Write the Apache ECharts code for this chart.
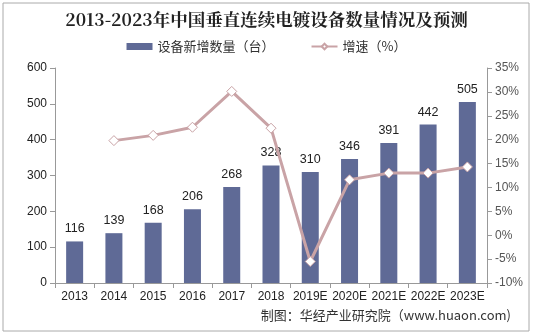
<!DOCTYPE html>
<html><head><meta charset="utf-8">
<script src="https://cdn.jsdelivr.net/npm/echarts@6/dist/echarts.min.js"></script>
<style>html,body{margin:0;padding:0;background:#fff}#c{width:533px;height:336px}</style>
</head><body><div id="c"></div>
<script>
const categories = ['2013','2014','2015','2016','2017','2018','2019E','2020E','2021E','2022E','2023E'];
const newUnits = [116,139,168,206,268,328,310,346,391,442,505];
const growthPct = [null,19.8,20.9,22.6,30.1,22.4,-5.5,11.6,13.0,13.0,14.3];
const leftTicks = [0,600,100];
const rightTicks = [-10,35,5];

const chart = echarts.init(document.getElementById('c'));
chart.setOption({
  animation:false,
  backgroundColor:'#fff',
  title:{text:'2013-2023年中国垂直连续电镀设备数量情况及预测',left:'center',top:6,
    textStyle:{fontFamily:'Noto Serif CJK SC, serif',fontWeight:'bold',fontSize:17.5,color:'#222'}},
  legend:{top:35,left:'center',itemGap:36,itemWidth:26,itemHeight:7,
    textStyle:{fontSize:13,color:'#333',fontFamily:'Noto Sans CJK SC'},
    data:[{name:'设备新增数量（台）',icon:'rect'},{name:'增速（%）'}]},
  grid:{left:55,right:46,top:68,bottom:53},
  xAxis:{type:'category',data:categories,
    axisLine:{lineStyle:{color:'#999'}},
    axisTick:{show:true,interval:0,lineStyle:{color:'#999'}},
    axisLabel:{color:'#222',fontSize:12,interval:0,margin:8,fontFamily:'Liberation Sans, Arial'}},
  yAxis:[
    {type:'value',min:leftTicks[0],max:leftTicks[1],interval:leftTicks[2],
     axisLine:{show:true,lineStyle:{color:'#999'}},axisTick:{show:true,lineStyle:{color:'#999'}},
     splitLine:{show:false},axisLabel:{color:'#222',fontSize:12,fontFamily:'Liberation Sans, Arial'}},
    {type:'value',min:rightTicks[0],max:rightTicks[1],interval:rightTicks[2],
     axisLine:{show:true,lineStyle:{color:'#999'}},axisTick:{show:true,lineStyle:{color:'#999'}},
     splitLine:{show:false},axisLabel:{color:'#555',fontSize:12,formatter:'{value}%',fontFamily:'Liberation Sans, Arial'}}
  ],
  series:[
    {name:'设备新增数量（台）',type:'bar',data:newUnits,barWidth:17,
     itemStyle:{color:'#5f6a96'},
     label:{show:true,position:'top',color:'#222',fontSize:12.5,distance:6,fontFamily:'Liberation Sans, Arial'}},
    {name:'增速（%）',type:'line',yAxisIndex:1,data:growthPct,
     symbol:'diamond',symbolSize:10,
     lineStyle:{color:'#c9a3a6',width:3},
     itemStyle:{color:'#fff',borderColor:'#c9a3a6',borderWidth:1}}
  ],
  graphic:[
    {type:'rect',shape:{x:3,y:3,width:526,height:328},style:{fill:'none',stroke:'#aaa',lineWidth:1},silent:true},
    {type:'text',right:22,top:309,style:{text:'制图：华经产业研究院（www.huaon.com)',fill:'#333',font:'13px "Noto Sans CJK SC"'}}
  ]
});
</script></body></html>
